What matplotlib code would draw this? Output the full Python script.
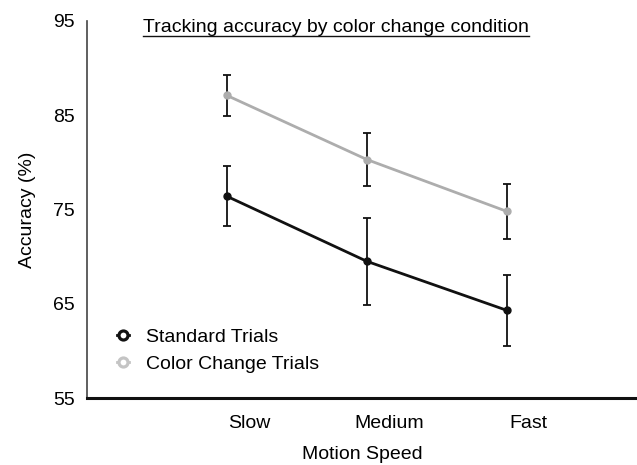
import matplotlib
matplotlib.use('Agg')
import matplotlib.pyplot as plt
import matplotlib.transforms as mtransforms
import numpy as np

speeds = ['Slow', 'Medium', 'Fast']
standard_mean = [76.4, 69.5, 64.3]
standard_err = [3.2, 4.6, 3.8]
color_mean = [87.1, 80.3, 74.8]
color_err = [2.15, 2.85, 2.95]
yticks = [55, 65, 75, 85, 95]

plt.rcParams['font.family'] = ['Liberation Sans', 'DejaVu Sans']
plt.rcParams['font.size'] = 14

fig = plt.figure(figsize=(6.37, 4.65), dpi=100)
ax = fig.add_axes([87 / 637, 1 - 398 / 465, 550 / 637, 377 / 465])

x = np.arange(len(speeds))
BLACK = '#111111'
GRAY = '#adadad'

ax.errorbar(x, color_mean, yerr=color_err, color=GRAY, lw=2, marker='o', ms=5,
            ecolor=BLACK, elinewidth=1.3, capsize=2.7, capthick=1.3, zorder=3)
ax.errorbar(x, standard_mean, yerr=standard_err, color=BLACK, lw=2, marker='o', ms=5,
            ecolor=BLACK, elinewidth=1.3, capsize=2.7, capthick=1.3, zorder=3)

ax.set_xlim(-1, 2.93)
ax.set_ylim(55, 95)
ax.set_yticks(yticks)
ax.set_xticks(x)
ax.set_xticklabels(speeds)
ax.tick_params(length=0)
ax.tick_params(axis='y', pad=9)
ax.tick_params(axis='x', pad=12)
shift = mtransforms.ScaledTranslation(0.22, 0, fig.dpi_scale_trans)
for lab in ax.get_xticklabels():
    lab.set_transform(lab.get_transform() + shift)

for s in ['top', 'right']:
    ax.spines[s].set_visible(False)
ax.spines['left'].set_color('#444444')
ax.spines['left'].set_linewidth(1.2)
ax.spines['bottom'].set_color(BLACK)
ax.spines['bottom'].set_linewidth(2.2)

ax.set_xlabel('Motion Speed', labelpad=10)
ax.set_ylabel('Accuracy (%)', labelpad=12)

# legend: short line stub with open circle
h1 = ax.plot([], [], color=BLACK, lw=2, marker='o', ms=6.5, mfc='white', mec=BLACK, mew=2.3)[0]
h2 = ax.plot([], [], color='#c4c4c4', lw=2, marker='o', ms=6.5, mfc='white', mec='#c4c4c4', mew=2.3)[0]
ax.legend([h1, h2], ['Standard Trials', 'Color Change Trials'], loc='lower left',
          bbox_to_anchor=(0.022, 0.02), frameon=False, handletextpad=0.85,
          handlelength=0.65, labelspacing=0.5)

title = fig.text(336 / 637, 1 - 28 / 465, 'Tracking accuracy by color change condition',
                 ha='center', va='center')
fig.canvas.draw()
bb = title.get_window_extent().transformed(fig.transFigure.inverted())
fig.add_artist(plt.Line2D([bb.x0, bb.x1], [bb.y0 + 0.002, bb.y0 + 0.002],
                          transform=fig.transFigure, color=BLACK, lw=1))

fig.savefig('out.png', dpi=100)
